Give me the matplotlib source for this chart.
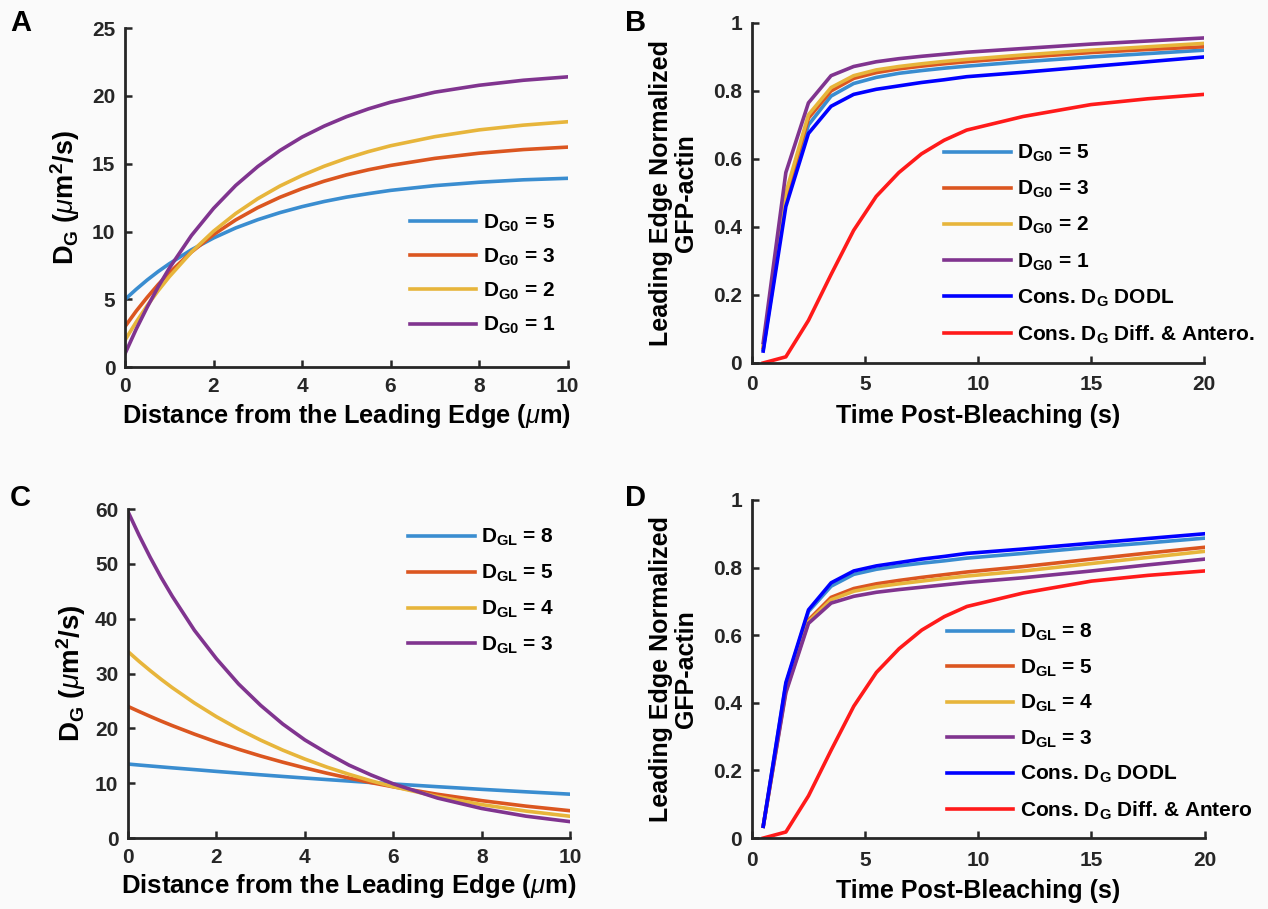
import numpy as np
import matplotlib
matplotlib.use("Agg")
import matplotlib.pyplot as plt

plt.rcParams['font.family'] = 'Liberation Sans'
plt.rcParams['mathtext.fontset'] = 'custom'
plt.rcParams['mathtext.rm'] = 'Liberation Sans:bold'
plt.rcParams['mathtext.bf'] = 'Liberation Sans:bold'
plt.rcParams['mathtext.it'] = 'Liberation Sans:italic'
plt.rcParams['mathtext.default'] = 'bf'

# distance from the leading edge (um), panels A and C
dist = [0, 0.25, 0.5, 0.75, 1, 1.5, 2, 2.5, 3, 3.5, 4, 4.5, 5, 5.5, 6, 7, 8, 9, 10]

# panel A: D_G profiles for different D_G0
a_dg5 = [5.0, 5.74, 6.43, 7.06, 7.63, 8.66, 9.53, 10.27, 10.88, 11.40, 11.84, 12.22,
         12.54, 12.80, 13.04, 13.39, 13.64, 13.82, 13.93]
a_dg3 = [3.0, 4.13, 5.15, 6.10, 6.97, 8.49, 9.78, 10.86, 11.77, 12.53, 13.17, 13.72,
         14.18, 14.56, 14.88, 15.40, 15.78, 16.05, 16.23]
a_dg2 = [2.0, 3.32, 4.54, 5.65, 6.67, 8.49, 10.03, 11.33, 12.43, 13.36, 14.14, 14.82,
         15.40, 15.90, 16.33, 17.00, 17.50, 17.85, 18.10]
a_dg1 = [1.0, 2.79, 4.42, 5.93, 7.30, 9.71, 11.71, 13.40, 14.80, 15.98, 16.97, 17.78,
         18.47, 19.05, 19.54, 20.28, 20.79, 21.16, 21.41]
a_labels = ['5', '3', '2', '1']

# panel C: D_G profiles for different D_GL
c_dgl8 = [13.5, 13.32, 13.15, 12.98, 12.81, 12.49, 12.16, 11.85, 11.54, 11.24, 10.95, 10.67,
          10.40, 10.13, 9.87, 9.37, 8.89, 8.44, 8.01]
c_dgl5 = [24.0, 23.08, 22.19, 21.33, 20.51, 18.96, 17.52, 16.20, 14.97, 13.84, 12.80, 11.83,
          10.94, 10.11, 9.35, 7.99, 6.83, 5.83, 4.99]
c_dgl4 = [34.0, 32.22, 30.54, 28.94, 27.43, 24.64, 22.13, 19.88, 17.86, 16.04, 14.41, 12.94,
          11.63, 10.44, 9.38, 7.57, 6.11, 4.93, 3.98]
c_dgl3 = [59.5, 55.2, 51.2, 47.5, 44.1, 37.9, 32.7, 28.1, 24.2, 20.8, 17.9, 15.5,
          13.3, 11.5, 9.9, 7.3, 5.4, 4.0, 3.0]
c_labels = ['8', '5', '4', '3']

# time post-bleaching (s), panels B and D
t = [0.5, 1.5, 2.5, 3.5, 4.5, 5.5, 6.5, 7.5, 8.5, 9.5, 12, 15, 17.5, 20]

b_dg5 = [0.04, 0.48, 0.70, 0.785, 0.822, 0.840, 0.852, 0.860, 0.867, 0.873, 0.886, 0.900, 0.910, 0.920]
b_dg3 = [0.045, 0.49, 0.72, 0.800, 0.837, 0.854, 0.865, 0.873, 0.880, 0.886, 0.899, 0.913, 0.922, 0.930]
b_dg2 = [0.05, 0.50, 0.73, 0.810, 0.845, 0.862, 0.872, 0.880, 0.887, 0.893, 0.906, 0.920, 0.930, 0.940]
b_dg1 = [0.06, 0.56, 0.765, 0.845, 0.872, 0.886, 0.895, 0.902, 0.908, 0.914, 0.925, 0.938, 0.947, 0.956]
b_dodl = [0.035, 0.46, 0.675, 0.755, 0.790, 0.805, 0.815, 0.825, 0.833, 0.842, 0.855, 0.872, 0.886, 0.900]
b_antero = [0.0, 0.018, 0.125, 0.26, 0.39, 0.49, 0.56, 0.615, 0.655, 0.685, 0.725, 0.76, 0.777, 0.79]

d_dgl8 = [0.035, 0.455, 0.67, 0.745, 0.780, 0.795, 0.805, 0.813, 0.820, 0.828, 0.842, 0.860, 0.873, 0.887]
d_dgl5 = [0.035, 0.44, 0.645, 0.712, 0.738, 0.752, 0.762, 0.771, 0.779, 0.787, 0.803, 0.825, 0.843, 0.860]
d_dgl4 = [0.035, 0.435, 0.64, 0.705, 0.730, 0.743, 0.752, 0.760, 0.768, 0.775, 0.790, 0.812, 0.830, 0.848]
d_dgl3 = [0.035, 0.43, 0.635, 0.695, 0.715, 0.727, 0.735, 0.742, 0.749, 0.756, 0.770, 0.790, 0.808, 0.825]
d_dodl = [0.035, 0.46, 0.675, 0.755, 0.790, 0.805, 0.815, 0.825, 0.833, 0.842, 0.855, 0.872, 0.886, 0.900]
d_antero = [0.0, 0.018, 0.125, 0.26, 0.39, 0.49, 0.56, 0.615, 0.655, 0.685, 0.725, 0.76, 0.777, 0.79]

colors = ['#3a8dd0', '#db5620', '#e7b53b', '#80348f']
c_dodl = '#0000ff'
c_antero = '#ff1a1a'
axcol = '#262626'
lw = 2.6
leg_prop = {'weight': 'bold', 'size': 15}

fig = plt.figure(figsize=(12.68, 9.09), dpi=100, facecolor='#fafafa')


def style_axes(ax):
    ax.set_facecolor('none')
    for s in ['top', 'right']:
        ax.spines[s].set_visible(False)
    for s in ['left', 'bottom']:
        ax.spines[s].set_linewidth(2.0)
        ax.spines[s].set_color(axcol)
    ax.tick_params(direction='in', length=5, width=1.8, labelsize=15,
                   colors=axcol, pad=7)
    for lab in ax.get_xticklabels() + ax.get_yticklabels():
        lab.set_fontweight('bold')


def add_legend(ax, x, y, spacing):
    ax.legend(loc='upper left', bbox_to_anchor=(x, y), frameon=False, prop=leg_prop,
              handlelength=3.2, handletextpad=0.32, labelspacing=spacing,
              borderpad=0, borderaxespad=0)


dist_label = r'Distance from the Leading Edge ($\mathit{\mu}$m)'
dg_label = r'D$_{\mathbf{G}}$ ($\mathit{\mu}$m$^{\mathbf{2}}$/s)'
frap_label = 'Leading Edge Normalized\nGFP-actin'

# ---- panel A
axA = fig.add_axes([0.0986, 0.596, 0.349, 0.373])
for ys, col, lab in zip([a_dg5, a_dg3, a_dg2, a_dg1], colors, a_labels):
    axA.plot(dist, ys, color=col, lw=lw, label=r'D$_{\mathbf{G0}}$ = ' + lab)
axA.set_xlim(0, 10)
axA.set_ylim(0, 25)
axA.set_xticks([0, 2, 4, 6, 8, 10])
axA.set_yticks([0, 5, 10, 15, 20, 25])
style_axes(axA)
axA.set_xlabel(dist_label, fontsize=18.3, fontweight='bold', labelpad=4)
axA.set_ylabel(dg_label, fontsize=19.5, fontweight='bold', labelpad=7)
add_legend(axA, 0.643, 0.457, 0.62)

# ---- panel B
axB = fig.add_axes([0.593, 0.6007, 0.3565, 0.374])
for ys, col, lab in zip([b_dg5, b_dg3, b_dg2, b_dg1], colors, a_labels):
    axB.plot(t, ys, color=col, lw=lw, label=r'D$_{\mathbf{G0}}$ = ' + lab)
axB.plot(t, b_dodl, color=c_dodl, lw=lw, label=r'Cons. D$_{\mathbf{G}}$ DODL')
axB.plot(t, b_antero, color=c_antero, lw=lw, label=r'Cons. D$_{\mathbf{G}}$ Diff. & Antero.')
axB.set_xlim(0, 20)
axB.set_ylim(0, 1)
axB.set_xticks([0, 5, 10, 15, 20])
axB.set_yticks([0, 0.2, 0.4, 0.6, 0.8, 1])
axB.set_yticklabels(['0', '0.2', '0.4', '0.6', '0.8', '1'])
style_axes(axB)
axB.tick_params(axis='x', pad=9)
axB.set_xlabel('Time Post-Bleaching (s)', fontsize=18, fontweight='bold', labelpad=7)
axB.set_ylabel(frap_label, fontsize=18, fontweight='bold', labelpad=11, linespacing=1.05)
add_legend(axB, 0.425, 0.647, 0.71)

# ---- panel C
axC = fig.add_axes([0.101, 0.078, 0.3486, 0.362])
for ys, col, lab in zip([c_dgl8, c_dgl5, c_dgl4, c_dgl3], colors, c_labels):
    axC.plot(dist, ys, color=col, lw=lw, label=r'D$_{\mathbf{GL}}$ = ' + lab)
axC.set_xlim(0, 10)
axC.set_ylim(0, 60)
axC.set_xticks([0, 2, 4, 6, 8, 10])
axC.set_yticks([0, 10, 20, 30, 40, 50, 60])
style_axes(axC)
axC.set_xlabel(dist_label, fontsize=18.5, fontweight='bold', labelpad=4)
axC.set_ylabel(dg_label, fontsize=20, fontweight='bold', labelpad=5)
add_legend(axC, 0.633, 0.945, 0.7)

# ---- panel D
axD = fig.add_axes([0.593, 0.078, 0.357, 0.372])
for ys, col, lab in zip([d_dgl8, d_dgl5, d_dgl4, d_dgl3], colors, c_labels):
    axD.plot(t, ys, color=col, lw=lw, label=r'D$_{\mathbf{GL}}$ = ' + lab)
axD.plot(t, d_dodl, color=c_dodl, lw=lw, label=r'Cons. D$_{\mathbf{G}}$ DODL')
axD.plot(t, d_antero, color=c_antero, lw=lw, label=r'Cons. D$_{\mathbf{G}}$ Diff. & Antero')
axD.set_xlim(0, 20)
axD.set_ylim(0, 1)
axD.set_xticks([0, 5, 10, 15, 20])
axD.set_yticks([0, 0.2, 0.4, 0.6, 0.8, 1])
axD.set_yticklabels(['0', '0.2', '0.4', '0.6', '0.8', '1'])
style_axes(axD)
axD.tick_params(axis='x', pad=9)
axD.set_xlabel('Time Post-Bleaching (s)', fontsize=18, fontweight='bold', labelpad=7)
axD.set_ylabel(frap_label, fontsize=18, fontweight='bold', labelpad=11, linespacing=1.05)
add_legend(axD, 0.43, 0.639, 0.68)

# panel letters
for x, y, s in [(0.008, 0.99, 'A'), (0.493, 0.99, 'B'), (0.008, 0.467, 'C'), (0.493, 0.467, 'D')]:
    fig.text(x, y, s, fontsize=21, fontweight='bold', va='top', ha='left', color='black')

fig.savefig('out.png', dpi=100, facecolor=fig.get_facecolor())
